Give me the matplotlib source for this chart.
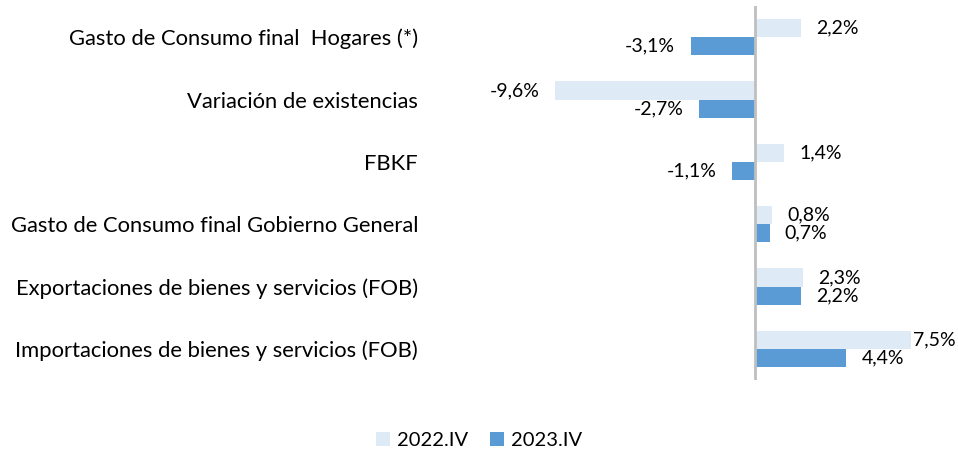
import numpy as np
import matplotlib
matplotlib.use('Agg')
import matplotlib.pyplot as plt

plt.rcParams['font.family'] = ['Lato', 'DejaVu Sans']

categorias = ['Gasto de Consumo final  Hogares (*)',
              'Variación de existencias',
              'FBKF',
              'Gasto de Consumo final Gobierno General',
              'Exportaciones de bienes y servicios (FOB)',
              'Importaciones de bienes y servicios (FOB)']
serie_2022 = [2.2, -9.6, 1.4, 0.8, 2.3, 7.5]
serie_2023 = [-3.1, -2.7, -1.1, 0.7, 2.2, 4.4]
nombres = ['2022.IV', '2023.IV']

color_claro = '#DEEBF7'
color_oscuro = '#5B9BD5'

fig = plt.figure(figsize=(9.58, 4.55), dpi=100)
ax = fig.add_axes([425/958, 75/455, 525/958, 374/455])

y = np.arange(len(categorias))
h = 0.29
b1 = ax.barh(y - h/2, serie_2022, height=h, color=color_claro, label=nombres[0])
b2 = ax.barh(y + h/2, serie_2023, height=h, color=color_oscuro, label=nombres[1])

ax.set_xlim(-15.87, 9.38)
ax.set_ylim(5.5, -0.5)
ax.axvline(0, color='#BFBFBF', lw=2, zorder=3)

for spine in ax.spines.values():
    spine.set_visible(False)
ax.set_xticks([])
ax.set_yticks(y)
ax.set_yticklabels(categorias, fontsize=15.8, color='#000000')
ax.tick_params(axis='y', length=0, pad=5)

# etiquetas de datos (fuera del extremo de la barra)
for bars, vals in [(b1, serie_2022), (b2, serie_2023)]:
    for rect, v in zip(bars, vals):
        yc = rect.get_y() + rect.get_height()/2
        off = 1.5 if v > 7 else 11
        txt = f'{v:.1f}%'.replace('.', ',')
        if v >= 0:
            ax.annotate(txt, (v, yc), xytext=(off, 0), textcoords='offset points',
                        ha='left', va='center', fontsize=14)
        else:
            ax.annotate(txt, (v, yc), xytext=(-off, 0), textcoords='offset points',
                        ha='right', va='center', fontsize=14)

fig.legend(handles=[b1, b2], labels=nombres, loc='center', bbox_to_anchor=(0.5, 0.031),
           ncol=2, frameon=False, fontsize=14.5, handlelength=0.7, handleheight=0.7,
           handletextpad=0.35, columnspacing=1.1)

fig.savefig('out.png', dpi=100)
